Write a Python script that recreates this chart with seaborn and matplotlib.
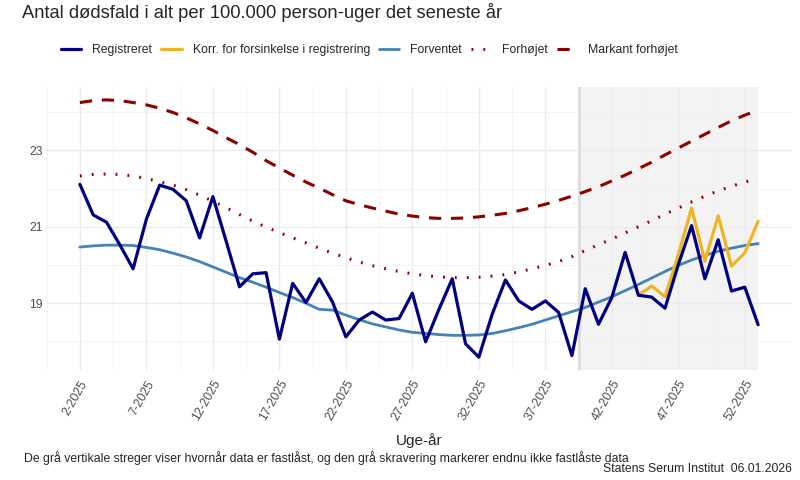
import numpy as np
import pandas as pd
import matplotlib
matplotlib.use("Agg")
import matplotlib.pyplot as plt
import seaborn as sns
from matplotlib.lines import Line2D

# uge-labels: 2-2025 ... 52-2025, 1-2026
uger = [f"{u}-2025" for u in range(2, 53)] + ["1-2026"]

registreret = [22.11, 21.31, 21.12, 20.53, 19.90, 21.20, 22.09, 21.98, 21.68, 20.71,
               21.79, 20.62, 19.43, 19.77, 19.80, 18.06, 19.52, 19.02, 19.64, 19.03,
               18.12, 18.56, 18.77, 18.56, 18.60, 19.26, 17.99, 18.84, 19.64, 17.94,
               17.59, 18.71, 19.61, 19.06, 18.84, 19.06, 18.76, 17.63, 19.38, 18.45,
               19.15, 20.33, 19.21, 19.16, 18.87, 20.01, 21.03, 19.64, 20.66, 19.32,
               19.42, 18.44]

# korrigeret for forsinkelse, kun de sidste uger (44-2025 og frem)
korr_uger = uger[42:]
korrigeret = [19.21, 19.45, 19.17, 20.27, 21.49, 20.10, 21.29, 19.97, 20.32, 21.14]

forventet = [20.47, 20.50, 20.52, 20.52, 20.51, 20.46, 20.40, 20.31, 20.21, 20.09,
             19.95, 19.81, 19.67, 19.55, 19.42, 19.28, 19.15, 19.00, 18.84, 18.82,
             18.69, 18.57, 18.46, 18.38, 18.30, 18.24, 18.21, 18.18, 18.16, 18.16,
             18.17, 18.21, 18.28, 18.36, 18.45, 18.56, 18.67, 18.78, 18.89, 19.03,
             19.17, 19.33, 19.49, 19.66, 19.83, 19.99, 20.13, 20.25, 20.36, 20.44,
             20.51, 20.56]

forhoejet = [22.33, 22.37, 22.38, 22.37, 22.33, 22.26, 22.18, 22.09, 21.97, 21.83,
             21.67, 21.50, 21.32, 21.15, 20.99, 20.85, 20.71, 20.58, 20.44, 20.31,
             20.19, 20.08, 19.98, 19.90, 19.83, 19.77, 19.72, 19.69, 19.67, 19.67,
             19.68, 19.71, 19.75, 19.82, 19.90, 19.99, 20.09, 20.22, 20.38, 20.53,
             20.68, 20.84, 21.00, 21.16, 21.33, 21.49, 21.65, 21.80, 21.94, 22.06,
             22.17, 22.26]

markant = [24.25, 24.30, 24.32, 24.30, 24.25, 24.19, 24.10, 23.99, 23.85, 23.69,
           23.52, 23.33, 23.15, 22.95, 22.73, 22.54, 22.35, 22.17, 22.01, 21.84,
           21.68, 21.58, 21.49, 21.41, 21.33, 21.28, 21.24, 21.22, 21.22, 21.23,
           21.26, 21.30, 21.35, 21.42, 21.50, 21.59, 21.69, 21.80, 21.92, 22.05,
           22.20, 22.35, 22.52, 22.69, 22.88, 23.06, 23.24, 23.42, 23.60, 23.77,
           23.92, 24.05]

fastlaast = "39-2025"  # sidste fastlaaste uge

df = pd.DataFrame({"uge": uger, "registreret": registreret, "forventet": forventet,
                   "forhoejet": forhoejet, "markant": markant})
df["x"] = np.arange(len(df))
dk = pd.DataFrame({"uge": korr_uger, "korrigeret": korrigeret})
dk["x"] = dk["uge"].map(dict(zip(df["uge"], df["x"])))

sns.set_theme(style="whitegrid")
plt.rcParams["font.family"] = ["Liberation Sans", "DejaVu Sans"]

c_reg = "#000080"
c_korr = "#F0B323"
c_forv = "#4682B4"
c_red = "#8B0000"
dots = (0, (0.6, 3.3))
dash = (0, (4, 3.2))

fig = plt.figure(figsize=(8, 4.8), dpi=100)
ax = fig.add_axes([46 / 800, 1 - 370 / 480, (792 - 46) / 800, (370 - 87) / 480])

sns.lineplot(data=df, x="x", y="markant", ax=ax, color=c_red, lw=2.2,
             linestyle=dash, zorder=3)
sns.lineplot(data=df, x="x", y="forhoejet", ax=ax, color=c_red, lw=2.2,
             linestyle=dots, zorder=3)
sns.lineplot(data=df, x="x", y="forventet", ax=ax, color=c_forv, lw=2.0, zorder=3)
sns.lineplot(data=dk, x="x", y="korrigeret", ax=ax, color=c_korr, lw=2.3, zorder=4)
sns.lineplot(data=df, x="x", y="registreret", ax=ax, color=c_reg, lw=2.3, zorder=5)

ax.margins(x=0.05, y=0.05)
ylo, yhi = ax.get_ylim()
xhi = df["x"].max()
x0 = df.loc[df["uge"] == fastlaast, "x"].iloc[0] + 0.5
ax.axvspan(x0, xhi, color="#F3F3F3", lw=0, zorder=0.5)
ax.axvline(x0, color="#DCDCDC", lw=2, zorder=2)
ax.set_ylim(ylo, yhi)

ax.set_xticks(df["x"][::5])
ax.set_xticklabels(df["uge"][::5], rotation=60, ha="right", va="top",
                   rotation_mode="anchor", fontsize=8.8, color="#4D4D4D")
ax.set_xticks(list(df["x"][::5] - 2.5) + [xhi - 0.5], minor=True)
ax.set_yticks([19, 21, 23])
ax.set_yticks([18, 20, 22, 24], minor=True)
ax.tick_params(axis="y", labelsize=8.8, labelcolor="#4D4D4D", pad=2, length=0)
ax.tick_params(axis="x", pad=6, length=0)
ax.tick_params(which="minor", length=0)
ax.grid(True, which="major", color="#EBEBEB", lw=1.0)
ax.grid(True, which="minor", color="#F2F2F2", lw=0.6)
for s in ax.spines.values():
    s.set_visible(False)
ax.set_ylabel("")
ax.set_xlabel("Uge-år", fontsize=11, labelpad=7)

fig.text(22 / 800, 1 - 12 / 480, "Antal dødsfald i alt per 100.000 person-uger det seneste år",
         fontsize=13.2, ha="left", va="center")
fig.text(24 / 800, 1 - 458 / 480,
         "De grå vertikale streger viser hvornår data er fastlåst, og den grå skravering markerer endnu ikke fastlåste data",
         fontsize=8.8, ha="left", va="center")
fig.text(792 / 800, 1 - 469 / 480, "Statens Serum Institut  06.01.2026",
         fontsize=8.8, ha="right", va="center")

handles = [Line2D([], [], color=c_reg, lw=2.3),
           Line2D([], [], color=c_korr, lw=2.3),
           Line2D([], [], color=c_forv, lw=2.0),
           Line2D([], [], color=c_red, lw=2.2, linestyle=dots),
           Line2D([], [], color=c_red, lw=2.2, linestyle=dash)]
labels = ["Registreret", "Korr. for forsinkelse i registrering", "Forventet",
          "Forhøjet", "Markant forhøjet"]
fig.legend(handles, labels, loc="center", bbox_to_anchor=(0.462, 1 - 50 / 480),
           ncol=5, frameon=False, fontsize=8.8, handlelength=1.65, columnspacing=0.75,
           handletextpad=0.9)

fig.savefig("out.png", dpi=100)
